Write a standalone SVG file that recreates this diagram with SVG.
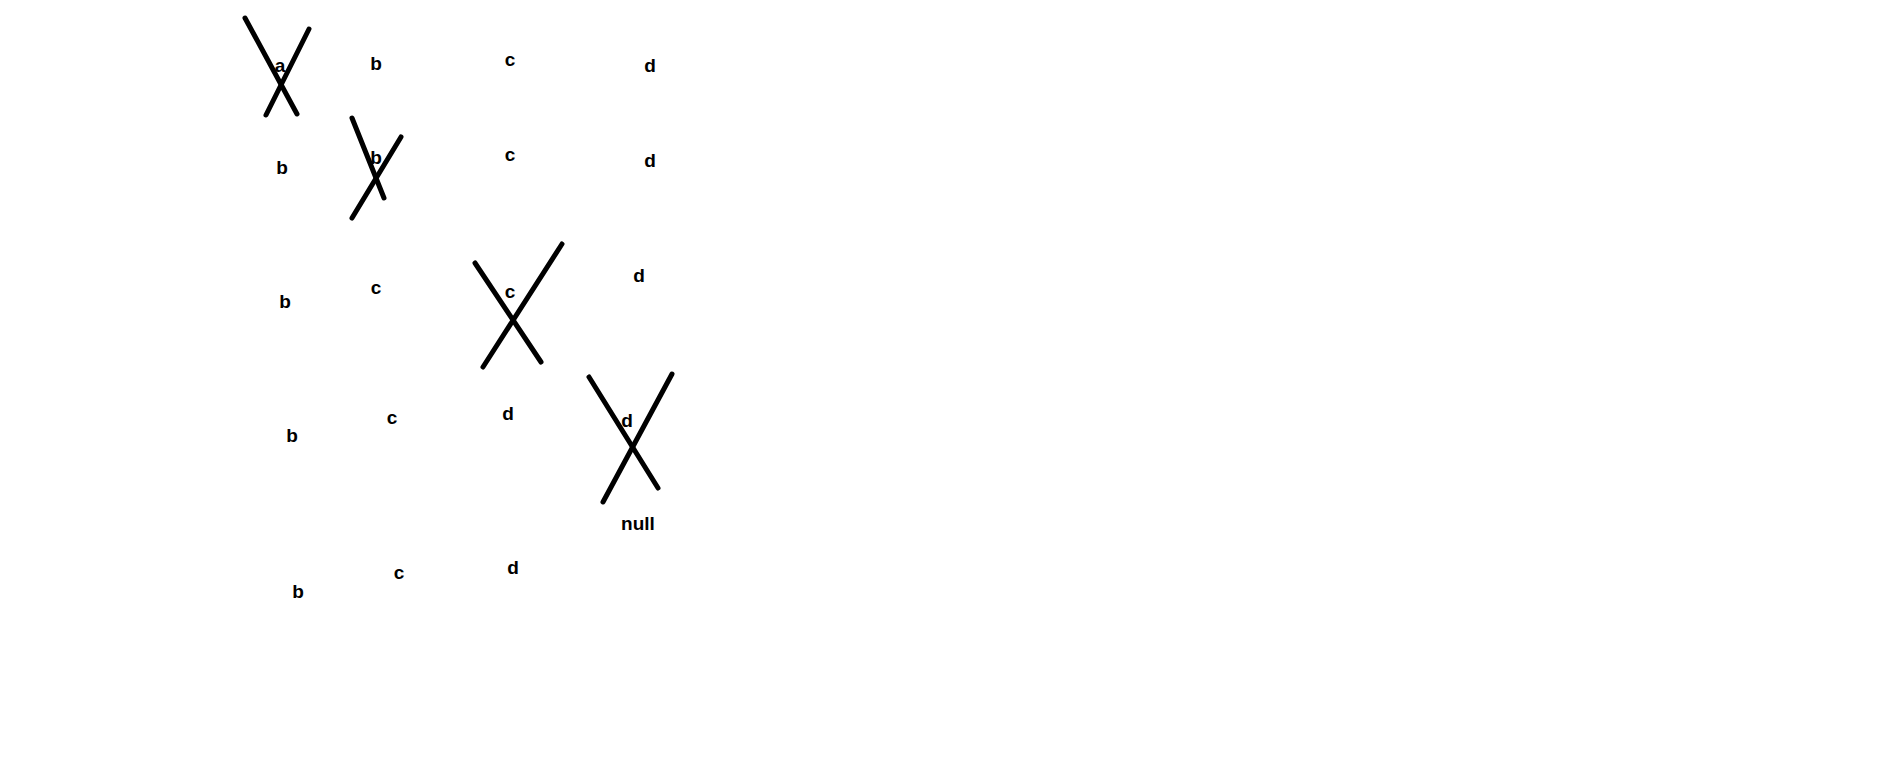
<svg xmlns="http://www.w3.org/2000/svg" width="1892" height="762" viewBox="0 0 1892 762">
<style>
text{font-family:"Liberation Sans",Arial,sans-serif;font-weight:bold;font-size:19px;fill:#000;text-anchor:middle}
.x line{stroke:#000;stroke-width:5;stroke-linecap:round}
</style>
<rect width="1892" height="762" fill="#fff"/>
<g id="row1">
<text x="280" y="72">a</text>
<text x="376" y="70">b</text>
<text x="510" y="66">c</text>
<text x="650" y="72">d</text>
</g>
<g id="row2">
<text x="282" y="174">b</text>
<text x="376" y="164">b</text>
<text x="510" y="161">c</text>
<text x="650" y="167">d</text>
</g>
<g id="row3">
<text x="285" y="308">b</text>
<text x="376" y="294">c</text>
<text x="510" y="298">c</text>
<text x="639" y="282">d</text>
</g>
<g id="row4">
<text x="292" y="442">b</text>
<text x="392" y="424">c</text>
<text x="508" y="420">d</text>
<text x="627" y="427">d</text>
<text x="638" y="530">null</text>
</g>
<g id="row5">
<text x="298" y="598">b</text>
<text x="399" y="579">c</text>
<text x="513" y="574">d</text>
</g>
<g id="crosses" class="x">
<line x1="245" y1="18" x2="297" y2="114"/>
<line x1="309" y1="29" x2="266" y2="115"/>
<line x1="352" y1="118" x2="384" y2="198"/>
<line x1="401" y1="137" x2="352" y2="218"/>
<line x1="475" y1="263" x2="541" y2="362"/>
<line x1="562" y1="244" x2="483" y2="367"/>
<line x1="589" y1="377" x2="658" y2="488"/>
<line x1="672" y1="374" x2="603" y2="502"/>
</g>
</svg>
